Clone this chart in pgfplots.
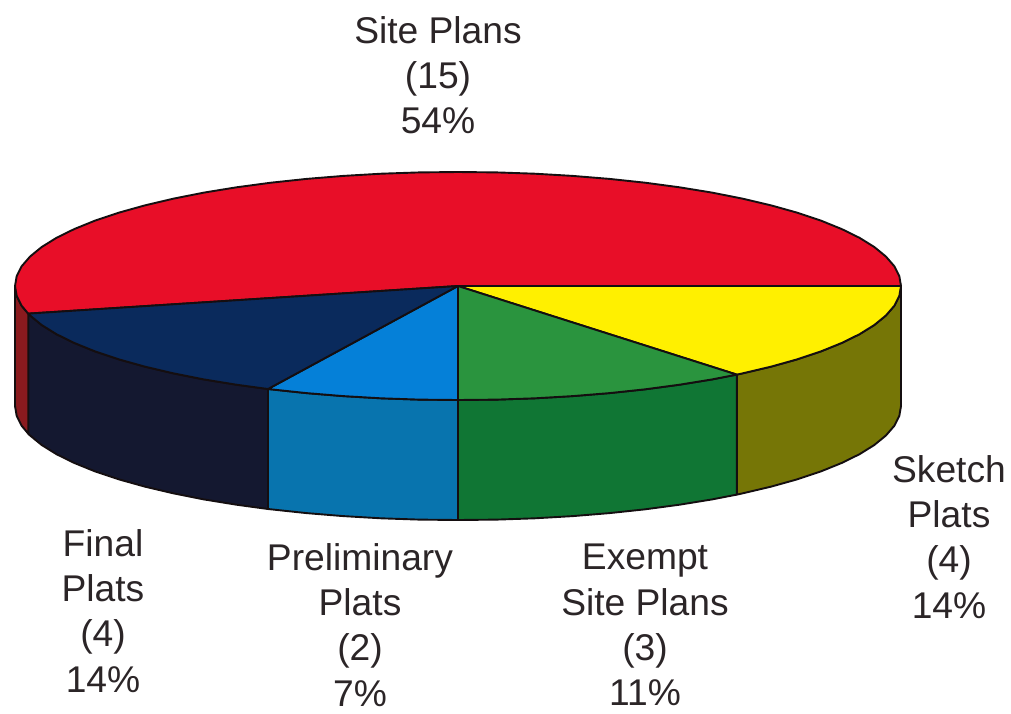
\documentclass[border=0pt]{standalone}
\usepackage{fontspec}
\setmainfont{Liberation Sans}
\usepackage{pgfplots}
\pgfplotsset{compat=1.18}
\definecolor{redtop}{HTML}{E80E28}
\definecolor{redside}{HTML}{8A1A1E}
\definecolor{yellowtop}{HTML}{FFF000}
\definecolor{yellowside}{HTML}{767606}
\definecolor{greentop}{HTML}{2A943E}
\definecolor{greenside}{HTML}{107634}
\definecolor{bluetop}{HTML}{0580D8}
\definecolor{blueside}{HTML}{0874AE}
\definecolor{navytop}{HTML}{0A2A5C}
\definecolor{navyside}{HTML}{141830}
\definecolor{inkline}{HTML}{140E10}
\definecolor{labeltext}{HTML}{2B2527}
\tikzset{slicecap/.style={align=center, font=\fontsize{18.6}{22.6}\selectfont, text=labeltext, inner sep=0pt}}
\begin{document}
\begin{tikzpicture}
\path[use as bounding box] (0,0) rectangle (505.5pt,356.5pt);
\begin{axis}[
  at={(0,0)}, anchor=south west,
  scale only axis, width=505.5pt, height=356.5pt,
  xmin=0, xmax=1011, ymin=0, ymax=713, y dir=reverse,
  hide axis, clip=false,
  every axis plot/.append style={draw=inkline, line width=0.95pt, line join=round},
]
% rim of the disc: Sketch Plats
\addplot[fill=yellowside] coordinates {
 (901,286)(899.3,295.9)(894.3,305.8)(885.9,315.5)(874.3,325)(859.5,334.2)(841.6,343)(820.9,351.4)(797.3,359.3)(771.2,366.6)(742.8,373.3)(736.8,374.6)
 (736.8,494.6)(742.8,493.3)(771.2,486.6)(797.3,479.3)(820.9,471.4)(841.6,463)(859.5,454.2)(874.3,445)(885.9,435.5)(894.3,425.8)(899.3,415.9)(901,406)
} -- cycle;
% rim: Exempt Site Plans
\addplot[fill=greenside] coordinates {
 (736.8,374.6)(712.1,379.4)(679.5,384.7)(645.2,389.3)(609.5,393.1)(572.7,396.1)(534.9,398.3)(496.6,399.6)(458,400)
 (458,520)(496.6,519.6)(534.9,518.3)(572.7,516.1)(609.5,513.1)(645.2,509.3)(679.5,504.7)(712.1,499.4)(736.8,494.6)
} -- cycle;
% rim: Preliminary Plats
\addplot[fill=blueside] coordinates {
 (458,400)(419.4,399.6)(381.1,398.3)(343.3,396.1)(306.5,393.1)(268,389)
 (268,509)(306.5,513.1)(343.3,516.1)(381.1,518.3)(419.4,519.6)(458,520)
} -- cycle;
% rim: Final Plats
\addplot[fill=navyside] coordinates {
 (268,389)(236.5,384.7)(203.9,379.4)(173.2,373.3)(144.8,366.6)(118.7,359.3)(95.1,351.4)(74.4,343)(56.5,334.2)(41.7,325)(30.1,315.5)(28.2,313.6)
 (28.2,433.6)(30.1,435.5)(41.7,445)(56.5,454.2)(74.4,463)(95.1,471.4)(118.7,479.3)(144.8,486.6)(173.2,493.3)(203.9,499.4)(236.5,504.7)(268,509)
} -- cycle;
% rim: Site Plans, the sliver seen at the far left
\addplot[fill=redside] coordinates {
 (28.2,313.6)(21.7,305.8)(16.7,295.9)(15,286)
 (15,406)(16.7,415.9)(21.7,425.8)(28.2,433.6)
} -- cycle;
% top face: Site Plans
\addplot[fill=redtop] coordinates {
 (458,286)(28.2,313.6)(21.7,305.8)(16.7,295.9)(15,286)(16.7,276.1)(21.7,266.2)(30.1,256.5)(41.7,247)(56.5,237.8)(74.4,229)(95.1,220.6)(118.7,212.7)(144.8,205.4)(173.2,198.7)(203.9,192.6)(236.5,187.3)(270.8,182.7)(306.5,178.9)(343.3,175.9)(381.1,173.7)(419.4,172.4)(458,172)(496.6,172.4)(534.9,173.7)(572.7,175.9)(609.5,178.9)(645.2,182.7)(679.5,187.3)(712.1,192.6)(742.8,198.7)(771.2,205.4)(797.3,212.7)(820.9,220.6)(841.6,229)(859.5,237.8)(874.3,247)(885.9,256.5)(894.3,266.2)(899.3,276.1)(901,286)
} -- cycle;
% top face: Sketch Plats
\addplot[fill=yellowtop] coordinates {
 (458,286)(901,286)(899.3,295.9)(894.3,305.8)(885.9,315.5)(874.3,325)(859.5,334.2)(841.6,343)(820.9,351.4)(797.3,359.3)(771.2,366.6)(742.8,373.3)(736.8,374.6)
} -- cycle;
% top face: Exempt Site Plans
\addplot[fill=greentop] coordinates {
 (458,286)(736.8,374.6)(712.1,379.4)(679.5,384.7)(645.2,389.3)(609.5,393.1)(572.7,396.1)(534.9,398.3)(496.6,399.6)(458,400)
} -- cycle;
% top face: Preliminary Plats
\addplot[fill=bluetop] coordinates {
 (458,286)(458,400)(419.4,399.6)(381.1,398.3)(343.3,396.1)(306.5,393.1)(268,389)
} -- cycle;
% top face: Final Plats
\addplot[fill=navytop] coordinates {
 (458,286)(268,389)(236.5,384.7)(203.9,379.4)(173.2,373.3)(144.8,366.6)(118.7,359.3)(95.1,351.4)(74.4,343)(56.5,334.2)(41.7,325)(30.1,315.5)(28.2,313.6)
} -- cycle;
% slice captions
\node[slicecap] at (axis cs:438,75) {Site Plans\\(15)\\54\%};
\node[slicecap] at (axis cs:949,537) {Sketch\\Plats\\(4)\\14\%};
\node[slicecap] at (axis cs:645,625) {Exempt\\Site Plans\\(3)\\11\%};
\node[slicecap] at (axis cs:360,625) {Preliminary\\Plats\\(2)\\7\%};
\node[slicecap] at (axis cs:103,611) {Final\\Plats\\(4)\\14\%};
\end{axis}
\end{tikzpicture}
\end{document}
